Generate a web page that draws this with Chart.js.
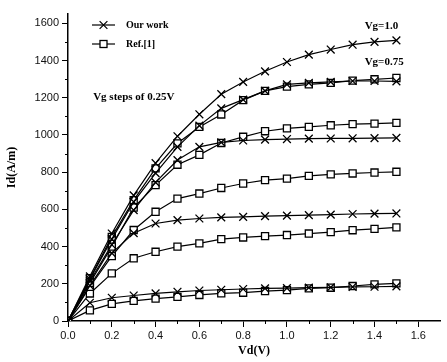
<!DOCTYPE html>
<html>
<head>
<meta charset="utf-8">
<script src="https://cdn.jsdelivr.net/npm/chart.js@4.4.1/dist/chart.umd.min.js"></script>
<style>
  html, body { margin: 0; padding: 0; background: #fff; }
</style>
</head>
<body>
<canvas id="c" width="447" height="362"></canvas>
<script>
// --- Données ---
const vd = [0, 0.1, 0.2, 0.3, 0.4, 0.5, 0.6, 0.7, 0.8, 0.9, 1.0, 1.1, 1.2, 1.3, 1.4, 1.5];

// Our work (croix), Vg du plus fort au plus faible
const ourA = [0, 240, 470, 675, 848, 993, 1111, 1219, 1285, 1342, 1392, 1432, 1459, 1485, 1500, 1508];
const ourB = [0, 225, 440, 640, 795, 936, 1050, 1143, 1190, 1237, 1272, 1280, 1285, 1290, 1290, 1288];
const ourC = [0, 215, 410, 596, 745, 865, 936, 960, 970, 975, 978, 980, 981, 982, 983, 984];
const ourD = [0, 190, 365, 472, 524, 542, 551, 557, 560, 564, 566, 569, 572, 575, 577, 578];
const ourE = [0, 98, 125, 137, 148, 157, 164, 168, 172, 175, 177, 179, 181, 183, 184, 186];

// Ref.[1] (carrés)
const refA = [0, 230, 452, 650, 820, 955, 1043, 1110, 1187, 1237, 1260, 1272, 1280, 1292, 1299, 1306];
const refB = [0, 205, 400, 610, 730, 840, 893, 957, 990, 1020, 1035, 1043, 1052, 1058, 1061, 1065];
const refC = [0, 184, 349, 489, 587, 658, 685, 715, 739, 757, 765, 780, 788, 793, 798, 802];
const refD = [0, 148, 256, 337, 372, 400, 417, 440, 449, 456, 462, 470, 478, 488, 495, 503];
const refE = [0, 57, 92, 108, 120, 130, 140, 149, 152, 161, 166, 175, 179, 188, 197, 202];

// Graduations
const xTicks = [0, 0.2, 0.4, 0.6, 0.8, 1.0, 1.2, 1.4, 1.6];
const yTicks = [0, 200, 400, 600, 800, 1000, 1200, 1400, 1600];
const xMinor = [0.1, 0.3, 0.5, 0.7, 0.9, 1.1, 1.3, 1.5];
const yMinor = [100, 300, 500, 700, 900, 1100, 1300, 1500];

const legendLabels = ['Our work', 'Ref.[1]'];
const notes = [
  { text: 'Vg=1.0', x: 1.355, y: 1584 },
  { text: 'Vg=0.75', x: 1.355, y: 1390 },
  { text: 'Vg steps of 0.25V', x: 0.115, y: 1203 }
];

// --- Construction des séries ---
const pts = (arr) => vd.map((x, i) => ({ x, y: arr[i] }));
const crossSet = (arr) => ({
  data: pts(arr), borderColor: '#000', borderWidth: 1.2,
  pointStyle: 'crossRot', pointRadius: 5.5, pointBorderWidth: 1.3,
  pointBorderColor: '#000', pointBackgroundColor: '#000', tension: 0
});
const squareSet = (arr) => ({
  data: pts(arr), borderColor: '#000', borderWidth: 1.2,
  pointStyle: 'rect', pointRadius: 5, pointBorderWidth: 1.3,
  pointBorderColor: '#000', pointBackgroundColor: '#fff', tension: 0
});

const datasets = [
  ...[ourA, ourB, ourC, ourD, ourE].map(crossSet),
  ...[refA, refB, refC, refD, refE].map(squareSet)
];

const SERIF = '"Liberation Serif", "Times New Roman", serif';
const SANS = '"Liberation Sans", Arial, sans-serif';

// --- Petites graduations ---
const minorTicks = {
  id: 'minorTicks',
  afterDraw(chart) {
    const { ctx, scales: { x, y } } = chart;
    ctx.save();
    ctx.strokeStyle = '#000';
    ctx.lineWidth = 1;
    xMinor.forEach(v => {
      const px = Math.round(x.getPixelForValue(v)) + 0.5;
      ctx.beginPath(); ctx.moveTo(px, y.bottom); ctx.lineTo(px, y.bottom + 3); ctx.stroke();
    });
    yMinor.forEach(v => {
      const py = Math.round(y.getPixelForValue(v)) + 0.5;
      ctx.beginPath(); ctx.moveTo(x.left, py); ctx.lineTo(x.left - 3, py); ctx.stroke();
    });
    ctx.restore();
  }
};

// --- Légende et annotations ---
const notesPlugin = {
  id: 'notes',
  afterDraw(chart) {
    const { ctx, chartArea: ca, scales: { x, y } } = chart;
    ctx.save();
    ctx.fillStyle = '#000';
    ctx.strokeStyle = '#000';
    ctx.textBaseline = 'middle';

    // légende
    const lx = ca.left + 24, ly = ca.top + 11;
    legendLabels.forEach((lab, i) => {
      const yy = ly + i * 19;
      ctx.lineWidth = 1.2;
      ctx.beginPath(); ctx.moveTo(lx, yy); ctx.lineTo(lx + 23, yy); ctx.stroke();
      if (i === 0) {
        Chart.helpers.drawPoint(ctx, { pointStyle: 'crossRot', radius: 5.5, borderWidth: 1.3 }, lx + 11.5, yy);
      } else {
        ctx.lineWidth = 1.3;
        ctx.fillStyle = '#fff';
        ctx.fillRect(lx + 8, yy - 3.5, 7, 7);
        ctx.fillStyle = '#000';
        ctx.strokeRect(lx + 8, yy - 3.5, 7, 7);
      }
      ctx.font = 'bold 10px ' + SERIF;
      ctx.fillText(lab, lx + 34, yy);
    });

    // textes Vg
    ctx.font = 'bold 11px ' + SERIF;
    notes.forEach(n => {
      ctx.fillText(n.text, x.getPixelForValue(n.x), y.getPixelForValue(n.y));
    });
    ctx.restore();
  }
};

new Chart(document.getElementById('c'), {
  type: 'line',
  data: { datasets },
  plugins: [minorTicks, notesPlugin],
  options: {
    responsive: false,
    animation: false,
    layout: { padding: { top: 14, right: 4, left: 0, bottom: 0 } },
    plugins: { legend: { display: false }, tooltip: { enabled: false } },
    scales: {
      x: {
        type: 'linear', min: 0, max: 1.7,
        afterFit: (s) => { s.height = 41; },
        afterBuildTicks: (s) => { s.ticks = xTicks.map(value => ({ value })); },
        border: { display: true, color: '#000', width: 1.5 },
        grid: { drawOnChartArea: false, drawTicks: true, tickLength: 6, tickColor: '#000', tickWidth: 1 },
        ticks: {
          padding: 2, color: '#111', maxRotation: 0, autoSkip: false,
          font: { family: SANS, size: 11 },
          callback: (v) => Number(v).toFixed(1)
        },
        title: {
          display: true, text: 'Vd(V)', color: '#000',
          font: { family: SERIF, size: 12, weight: 'bold' },
          padding: { top: 0, bottom: 4 }
        }
      },
      y: {
        type: 'linear', min: 0, max: 1650,
        afterFit: (s) => { s.width = 68; },
        afterBuildTicks: (s) => { s.ticks = yTicks.map(value => ({ value })); },
        border: { display: true, color: '#000', width: 1.5 },
        grid: { drawOnChartArea: false, drawTicks: true, tickLength: 6, tickColor: '#000', tickWidth: 1 },
        ticks: {
          padding: 3, color: '#111', autoSkip: false,
          font: { family: SANS, size: 11 },
          callback: (v) => String(v)
        },
        title: {
          display: true, text: 'Id(A/m)', color: '#000',
          font: { family: SERIF, size: 12, weight: 'bold' },
          padding: { top: 5, bottom: 0 }
        }
      }
    }
  }
});
</script>
</body>
</html>
